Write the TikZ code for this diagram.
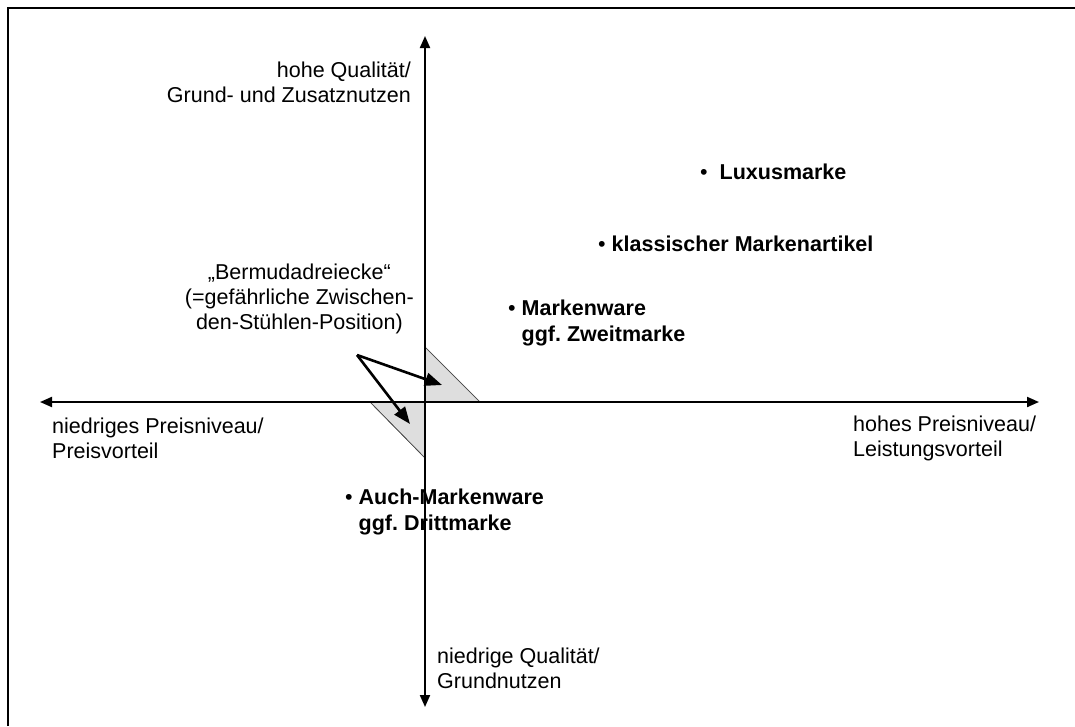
\documentclass[tikz,border=0pt]{standalone}
\usepackage{fontspec}
\setmainfont{Liberation Sans}
\usepackage{tikz}
\usetikzlibrary{arrows.meta}
\frenchspacing
\tikzstyle{axis}=[line width=2pt,{Triangle[length=12pt,width=10pt]}-{Triangle[length=12pt,width=10pt]}]
\tikzstyle{label}=[inner sep=0pt,font=\fontsize{21.5}{25}\selectfont]
\tikzstyle{brand}=[label,align=left,anchor=west,font=\fontsize{21.5}{26}\selectfont\bfseries]
\tikzstyle{zone}=[fill=black!13,draw=black!70,line width=0.6pt]
\tikzstyle{pointer}=[line width=2.6pt,-{Triangle[length=17pt,width=13pt]}]
\newcommand{\pt}{{\normalfont\textbullet}\ }

\begin{document}
\begin{tikzpicture}[x=1pt,y=-1pt]
        \useasboundingbox (0,0) rectangle (1075,726);
        \draw[line width=1.5pt] (8,726) -- (8,8) -- (1075,8);

        % Bermudadreiecke
        \coordinate (o) at (425,402);
        \fill[zone] (425,347) -- (480,402) -- (o) -- cycle;
        \fill[zone] (370,402) -- (425,458) -- (o) -- cycle;
        \draw[zone,fill=none] (425,347) -- (480,402);
        \draw[zone,fill=none] (370,402) -- (425,458);

        % Achsen
        \coordinate (top) at (425,36);
        \coordinate (bottom) at (425,707);
        \coordinate (left) at (40,402);
        \coordinate (right) at (1039,402);
        \draw[axis] (bottom) -- (top);
        \draw[axis] (left) -- (right);

        \node[label,align=right,anchor=east] (qhigh) at (411,82) {hohe Qualität/\\Grund- und Zusatznutzen};
        \node[label,align=left,anchor=west] (qlow) at (437,668) {niedrige Qualität/\\Grundnutzen};
        \node[label,align=left,anchor=west] (plow) at (52,438) {niedriges Preisniveau/\\Preisvorteil};
        \node[label,align=left,anchor=west] (phigh) at (853,438) {hohes Preisniveau/\\Leistungsvorteil};

        % Marken
        \node[brand] (lux) at (700,172) {\pt\ Luxusmarke};
        \node[brand] (klass) at (598,244) {\pt klassischer Markenartikel};
        \node[brand] (zweit) at (508,323) {\pt Markenware\\\phantom{\pt}ggf. Zweitmarke};
        \node[brand] (dritt) at (345,512) {\pt Auch-Markenware\\\phantom{\pt}ggf. Drittmarke};

        \node[label,align=center,anchor=east] (bermuda) at (414,299) {„Bermudadreiecke“\\(=gefährliche Zwischen-\\den-Stühlen-Position)};
        \coordinate (bstart) at (357,355);
        \coordinate (bup) at (442,385);
        \coordinate (bdown) at (410,424);
        \draw[pointer] (bstart) -- (bup);
        \draw[pointer] (bstart) -- (bdown);
\end{tikzpicture}
\end{document}
